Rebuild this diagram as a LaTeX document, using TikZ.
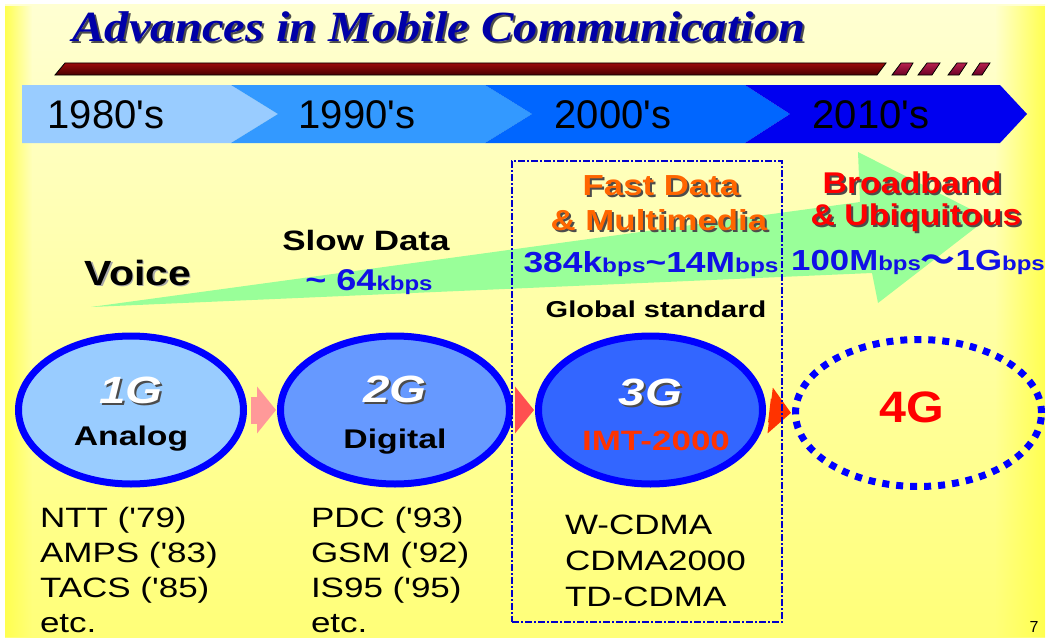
\documentclass[tikz,border=0pt]{standalone}
\usepackage{fontspec}
\usepackage{graphicx}
\setmainfont{Liberation Sans}
% a second Arial-width family without TeX ligatures, used for straight apostrophes
\setmonofont{Liberation Sans}
\newfontfamily\serifbi{Liberation Serif}
\newfontfamily\cjkfont{Noto Sans CJK JP}
\usetikzlibrary{fadings,arrows.meta,shapes.geometric}

\newcommand\apos{{\ttfamily\char"27}}
\newcommand\sx[2][1.2]{\scalebox{#1}[1]{#2}}
\newcommand\fs[1]{\fontsize{#1}{#1}\selectfont}

\definecolor{bgtop}{HTML}{FFFFD2}
\definecolor{bgbot}{HTML}{FFFF78}
\definecolor{bgedge}{HTML}{FFFF50}
\definecolor{titleblue}{HTML}{0000A8}
\definecolor{bartop}{HTML}{9A0A0A}
\definecolor{barbot}{HTML}{4A0000}
\definecolor{dashtop}{HTML}{B8204E}
\definecolor{dashbot}{HTML}{6A0024}
\definecolor{c80}{HTML}{99CCFF}
\definecolor{c90}{HTML}{3399FF}
\definecolor{c00}{HTML}{0066FF}
\definecolor{c10}{HTML}{0000F0}
\definecolor{arrowgreen}{HTML}{99FF99}
\definecolor{ringblue}{HTML}{0000FF}
\definecolor{fill1}{HTML}{99CCFF}
\definecolor{fill2}{HTML}{6699FF}
\definecolor{fill3}{HTML}{3366FF}
\definecolor{rateblue}{HTML}{1010E6}
\definecolor{fastorange}{HTML}{FF6600}
\definecolor{imtred}{HTML}{FF3300}
\definecolor{pink1}{HTML}{FF9999}
\definecolor{pink2}{HTML}{FF5050}
\definecolor{boxblue}{HTML}{0000CC}

\tikzfading[name=edgefade right, left color=transparent!0, right color=transparent!100]
\tikzfading[name=edgefade left, left color=transparent!100, right color=transparent!0]

\begin{document}
\begin{tikzpicture}[x=1pt, y=-1pt,
  txt/.style={inner sep=0pt, outer sep=0pt, anchor=base},
  shd/.style={txt, text=black!70},
  gen/.style={ellipse, draw=ringblue, line width=7pt, inner sep=0pt},
  genfuture/.style={ellipse, draw=ringblue, line width=7pt,
    dash pattern=on 7pt off 7pt, inner sep=0pt},
  stepgo/.style={line width=#1, shorten <=3.5pt, shorten >=1pt},
  bartile/.style={draw=black, line width=0.8pt, top color=dashtop, bottom color=dashbot},
]
\useasboundingbox (0,0) rectangle (1049,642);

% slide background
\fill[white] (0,0) rectangle (1049,642);
\shade[top color=bgtop, bottom color=bgbot] (5,5) rectangle (1045,637);
\fill[bgedge, path fading=edgefade right] (5,5) rectangle (32,637);
\fill[bgedge, path fading=edgefade left] (995,5) rectangle (1045,637);

% title
\node[shd] (title-s) at (441,44) {\serifbi\bfseries\itshape\fs{43}\sx[1.13]{Advances in Mobile Communication}};
\node[txt, text=titleblue] (title) at (439,42) {\serifbi\bfseries\itshape\fs{43}\sx[1.13]{Advances in Mobile Communication}};

% maroon rule with trailing tiles
\path[draw=black, line width=0.8pt, top color=bartop, bottom color=barbot]
  (55,75) -- (65,63) -- (886,63) -- (877,75) -- cycle;
\path[bartile] (892,75) -- (901,63) -- (913,63) -- (906,75) -- cycle;
\path[bartile] (918,75) -- (927,63) -- (940,63) -- (932,75) -- cycle;
\path[bartile] (948,75) -- (957,63) -- (967,63) -- (959,75) -- cycle;
\path[bartile] (972,75) -- (980,63) -- (990,63) -- (982,75) -- cycle;

% decade chevrons
\fill[c80] (22,85) -- (231,85) -- (278,114) -- (231,143) -- (22,143) -- cycle;
\fill[c90] (231,85) -- (485,85) -- (532,114) -- (485,143) -- (231,143) -- (278,114) -- cycle;
\fill[c00] (485,85) -- (745,85) -- (790,114) -- (745,143) -- (485,143) -- (532,114) -- cycle;
\fill[c10] (745,85) -- (1000,85) -- (1027,114) -- (1000,143) -- (745,143) -- (790,114) -- cycle;
\node[txt] (d80) at (106,128) {\fs{40}1980\apos s};
\node[txt] (d90) at (357,128) {\fs{40}1990\apos s};
\node[txt] (d00) at (613,128) {\fs{40}2000\apos s};
\node[txt] (d10) at (871,128) {\fs{40}2010\apos s};

% growing data-rate arrow
\fill[arrowgreen] (91,307) -- (860,202) -- (858,152) -- (988,218) -- (878,303) -- (872,273) -- cycle;

% generations
\node[gen, fill=fill1, minimum width=225pt, minimum height=148pt] (g1) at (131,410) {};
\node[gen, fill=fill2, minimum width=229pt, minimum height=148pt] (g2) at (395,410) {};
\node[gen, fill=fill3, minimum width=224pt, minimum height=148pt] (g3) at (650.5,410) {};
\node[genfuture, minimum width=246pt, minimum height=147pt] (g4) at (918.5,413) {};

\draw[pink1, stepgo=27pt, -{Triangle[length=19pt, width=46pt]}] (g1.east) -- (g2.west);
\draw[pink2, stepgo=26pt, -{Triangle[length=19pt, width=46pt]}] (g2.east) -- (g3.west);
\draw[imtred, stepgo=24pt, -{Triangle[length=21pt, width=45pt]}] (g3.east) -- (g4.west);

% 3G frame
\node[draw=boxblue, line width=1.3pt, dash pattern=on 7pt off 2pt on 2pt off 2pt,
  minimum width=270pt, minimum height=461pt, inner sep=0pt] (frame3g) at (647,391.5) {};

% service labels
\node[shd, text=black!35] (voice-s) at (139.5,286.5) {\bfseries\fs{35}\sx[1.17]{Voice}};
\node[txt] (voice) at (138,285) {\bfseries\fs{35}\sx[1.17]{Voice}};
\node[txt] (slow) at (366,250) {\bfseries\fs{28}\sx[1.25]{Slow Data}};
\node[txt, text=rateblue] (slowrate) at (369,290)
  {\bfseries\sx{{\fs{30}\textasciitilde{} 64}{\fs{20}kbps}}};

\node[shd] (fast-s) at (663,197) {\bfseries\fs{29}\sx{Fast Data}};
\node[txt, text=fastorange] (fast) at (661,195) {\bfseries\fs{29}\sx{Fast Data}};
\node[shd] (multi-s) at (661,232) {\bfseries\fs{29}\sx{\& Multimedia}};
\node[txt, text=fastorange] (multi) at (659,230) {\bfseries\fs{29}\sx{\& Multimedia}};
\node[txt, text=rateblue] (fastrate) at (651,272)
  {\bfseries\sx[1.22]{{\fs{29}384k}{\fs{20}bps}{\fs{29}\textasciitilde 14M}{\fs{20}bps}}};
\node[txt] (global) at (656,317) {\bfseries\fs{23}\sx[1.26]{Global standard}};

\node[shd] (broad-s) at (914,195) {\bfseries\fs{30}\sx[1.13]{Broadband}};
\node[txt, text=red] (broad) at (912,193) {\bfseries\fs{30}\sx[1.13]{Broadband}};
\node[shd] (ubiq-s) at (918,227) {\bfseries\fs{30}\sx[1.13]{\& Ubiquitous}};
\node[txt, text=red] (ubiq) at (916,225) {\bfseries\fs{30}\sx[1.13]{\& Ubiquitous}};
\node[txt, text=rateblue] (broadrate) at (918,270)
  {\bfseries\sx{{\fs{29}100M}{\fs{20}bps}{\cjkfont\fs{29}～}{\fs{29}1G}{\fs{20}bps}}};

% generation labels
\node[shd] (g1t-s) at (133,405) {\bfseries\itshape\fs{38}\sx[1.25]{1G}};
\node[txt, text=white] (g1t) at (131,403) {\bfseries\itshape\fs{38}\sx[1.25]{1G}};
\node[txt] (g1s) at (131,445) {\bfseries\fs{27}\sx[1.25]{Analog}};
\node[shd] (g2t-s) at (397,404) {\bfseries\itshape\fs{38}\sx[1.25]{2G}};
\node[txt, text=white] (g2t) at (395,402) {\bfseries\itshape\fs{38}\sx[1.25]{2G}};
\node[txt] (g2s) at (395,448) {\bfseries\fs{27}\sx[1.25]{Digital}};
\node[shd] (g3t-s) at (652.5,407) {\bfseries\itshape\fs{38}\sx[1.25]{3G}};
\node[txt, text=white] (g3t) at (650.5,405) {\bfseries\itshape\fs{38}\sx[1.25]{3G}};
\node[txt, text=imtred] (g3s) at (656,450) {\bfseries\fs{28}\sx[1.25]{IMT-2000}};
\node[txt, text=red] (g4t) at (912,422) {\bfseries\fs{44}\sx[1.1]{4G}};

% systems of each generation
\node[txt, anchor=base west] (sys1) at (40,527) {\fontsize{28}{35}\selectfont\sx[1.25]{%
  \begin{tabular}[t]{@{}l@{}}NTT (\apos79)\\AMPS (\apos83)\\TACS (\apos85)\\etc.\end{tabular}}};
\node[txt, anchor=base west] (sys2) at (311,527) {\fontsize{28}{35}\selectfont\sx[1.25]{%
  \begin{tabular}[t]{@{}l@{}}PDC (\apos93)\\GSM (\apos92)\\IS95 (\apos95)\\etc.\end{tabular}}};
\node[txt, anchor=base west] (sys3) at (565,534) {\fontsize{28}{36}\selectfont\sx[1.25]{%
  \begin{tabular}[t]{@{}l@{}}W-CDMA\\CDMA2000\\TD-CDMA\end{tabular}}};

\node[txt] (page) at (1034,632) {\fs{16}7};
\end{tikzpicture}
\end{document}
